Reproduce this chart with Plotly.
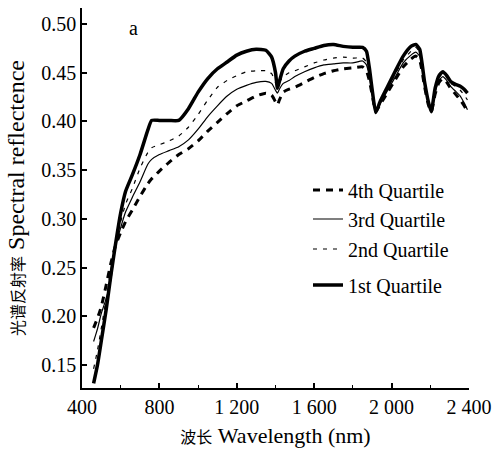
import plotly.graph_objects as go

wavelength = [460, 480, 500, 525, 550, 571, 600, 625, 660, 700, 740, 760, 800, 850, 900, 950,
              1000, 1050, 1100, 1150, 1200, 1250, 1300, 1350, 1380, 1400, 1410, 1420, 1440, 1470,
              1500, 1550, 1600, 1650, 1700, 1750, 1800, 1850, 1870, 1885, 1900, 1918, 1940, 1980,
              2020, 2060, 2100, 2125, 2145, 2170, 2190, 2205, 2225, 2245, 2265, 2285, 2305, 2330,
              2355, 2375, 2392]

q1 = [.131, .150, .175, .207, .243, .271, .306, .328, .345, .366, .391, .401, .401, .401, .401, .413,
      .430, .444, .454, .461, .468, .472, .474, .473, .466, .450, .434, .441, .454, .462,
      .467, .472, .475, .478, .479, .477, .476, .476, .472, .455, .432, .409, .420, .436,
      .452, .467, .477, .479, .474, .441, .420, .410, .434, .447, .451, .447, .441, .438,
      .436, .433, .429]

q2 = [.146, .165, .188, .218, .248, .271, .297, .315, .331, .352, .368, .373, .376, .380, .385, .394,
      .407, .422, .435, .442, .447, .451, .452, .452, .449, .440, .436, .440, .446, .450,
      .452, .456, .460, .463, .465, .466, .465, .465, .461, .448, .430, .411, .419, .434,
      .449, .463, .472, .476, .471, .440, .420, .411, .432, .445, .449, .445, .439, .436,
      .432, .427, .422]

q3 = [.174, .187, .203, .218, .238, .270, .291, .307, .322, .338, .356, .361, .366, .370, .374, .381,
      .392, .405, .416, .426, .433, .437, .440, .441, .439, .432, .429, .433, .439, .442,
      .446, .451, .455, .458, .459, .460, .460, .462, .458, .446, .428, .410, .418, .432,
      .446, .460, .468, .471, .467, .438, .418, .410, .430, .442, .446, .442, .436, .431,
      .426, .419, .412]

q4 = [.188, .198, .210, .232, .255, .271, .286, .297, .309, .323, .336, .341, .349, .358, .366, .372,
      .380, .390, .399, .408, .416, .421, .426, .429, .427, .420, .417, .422, .430, .433,
      .435, .440, .445, .449, .452, .454, .455, .456, .452, .442, .427, .410, .417, .430,
      .443, .456, .464, .467, .463, .436, .417, .410, .428, .440, .444, .440, .434, .428,
      .422, .416, .410]

series_names = ["4th Quartile", "3rd Quartile", "2nd Quartile", "1st Quartile"]
x_tickvals = [400, 800, 1200, 1600, 2000, 2400]
x_ticktext = ["400", "800", "1 200", "1 600", "2 000", "2 400"]
y_tickvals = [0.15, 0.20, 0.25, 0.30, 0.35, 0.40, 0.45, 0.50]
y_ticktext = ["0.15", "0.20", "0.25", "0.30", "0.35", "0.40", "0.45", "0.50"]

SERIF = "Liberation Serif, DejaVu Serif, serif"
CJK = "Noto Sans CJK SC"

styles = {
    "4th Quartile": dict(width=3, dash="7px,6px"),
    "3rd Quartile": dict(width=1.2, dash="solid"),
    "2nd Quartile": dict(width=1.2, dash="4px,6px"),
    "1st Quartile": dict(width=3.5, dash="solid"),
}
data_map = {"4th Quartile": q4, "3rd Quartile": q3, "2nd Quartile": q2, "1st Quartile": q1}
legend_ids = {"4th Quartile": "legend", "3rd Quartile": "legend2",
              "2nd Quartile": "legend3", "1st Quartile": "legend4"}

fig = go.Figure()
for name in series_names:
    fig.add_trace(go.Scatter(
        x=wavelength, y=data_map[name], mode="lines", name=name,
        line=dict(color="black", shape="spline", smoothing=0.5, **styles[name]),
        legend=legend_ids[name],
    ))

W, H = 495, 452
ml, mr, mt, mb = 82, 26, 8, 64
pw, ph = W - ml - mr, H - mt - mb

def px_to_paper(px, py):
    return (px - ml) / pw, (H - mb - py) / ph

legend_rows = {"legend": 190, "legend2": 219, "legend3": 249, "legend4": 285}
leg_kwargs = {}
for lid, py in legend_rows.items():
    lx, ly = px_to_paper(308, py)
    leg_kwargs[lid] = dict(x=lx, y=ly, xanchor="left", yanchor="middle",
                           font=dict(family=SERIF, size=20, color="black"),
                           bgcolor="rgba(0,0,0,0)", borderwidth=0)

ax, ay = px_to_paper(133, 28)

fig.update_layout(
    template="none",
    width=W, height=H,
    margin=dict(l=ml, r=mr, t=mt, b=mb, pad=0, autoexpand=False),
    paper_bgcolor="white", plot_bgcolor="white",
    font=dict(family=SERIF, size=19, color="black"),
    showlegend=True,
    **leg_kwargs,
    xaxis=dict(
        range=[400, 2400], showgrid=False, zeroline=False, automargin=False,
        showline=True, linecolor="black", linewidth=1.5, mirror=False,
        ticks="inside", ticklen=5, tickwidth=1.5, tickcolor="black",
        tickmode="array", tickvals=x_tickvals, ticktext=x_ticktext,
        tickfont=dict(family=SERIF, size=20),
        minor=dict(ticks="inside", ticklen=3, tickwidth=1.2, tickcolor="black",
                   dtick=200, tick0=400, showgrid=False),
        title=dict(text=f'<span style="font-family:{CJK};font-size:16px">波长</span> Wavelength (nm)',
                   font=dict(family=SERIF, size=22), standoff=11),
    ),
    yaxis=dict(
        range=[0.1263, 0.5164], showgrid=False, zeroline=False, automargin=False,
        showline=True, linecolor="black", linewidth=1.5, mirror=False,
        ticks="inside", ticklen=5, tickwidth=1.5, tickcolor="black",
        tickmode="array", tickvals=y_tickvals, ticktext=y_ticktext,
        tickfont=dict(family=SERIF, size=20),
        title=dict(text=f'<span style="font-family:{CJK};font-size:16px">光谱反射率</span> Spectral reflectence',
                   font=dict(family=SERIF, size=24), standoff=10),
    ),
    annotations=[dict(text="a", x=ax, y=ay, xref="paper", yref="paper",
                      xanchor="center", yanchor="middle",
                      showarrow=False, font=dict(family=SERIF, size=20, color="black"))],
)

fig.write_html("out.html", config={"displayModeBar": False},
               post_script="document.body.style.margin='0';")
